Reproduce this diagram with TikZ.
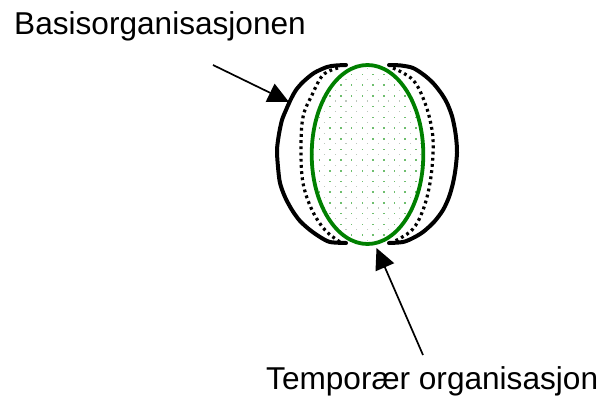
\documentclass[tikz,border=0pt]{standalone}
\usepackage{fontspec}
\setmainfont{Liberation Sans}
\usetikzlibrary{arrows.meta,shapes.geometric}
\definecolor{dgreen}{RGB}{0,128,0}
\definecolor{dotgreen}{RGB}{110,190,110}
\definecolor{dotgrey}{RGB}{190,200,190}
\begin{document}
\begin{tikzpicture}[x=1pt,y=-1pt,
  lbl/.style={anchor=base west,inner sep=0pt,font=\fontsize{31.6}{38}\selectfont},
  outerarc/.style={line width=4pt,black,line cap=round,line join=round},
  dotarc/.style={line width=3.2pt,black,dash pattern=on 2.8pt off 3.4pt},
  pointer/.style={line width=1.7pt,-{Triangle[length=21pt,width=20pt]}},
  orgring/.style={line width=3.8pt,dgreen}]
\useasboundingbox (0,0) rectangle (609,396);
% green dotted fill
\begin{scope}
  \clip (367.5,154.5) ellipse [x radius=55.8, y radius=89.5];
  \foreach \i in {0,...,11}{
    \foreach \j in {0,...,17}{
      \fill[dotgreen] (308+\i*10.7,63+\j*10.7) rectangle ++(1.6,1.6);
      \fill[dotgrey] (313.35+\i*10.7,68.35+\j*10.7) rectangle ++(1.1,1.1);
    }
  }
\end{scope}
\node[orgring,draw,ellipse,minimum width=111.6pt,minimum height=179pt,inner sep=0pt] (temp) at (367.5,154.5) {};
% outer black arcs
\draw[outerarc] plot[smooth,tension=0.5] coordinates {(346,65) (336,65.5) (327,67) (314,73) (303,82) (296,90) (292,97) (290,101) (286,110) (282,120) (279,134) (277,150) (278,167) (280,183) (285,197) (292,210) (300,221) (310,230) (320,237) (330,242) (346,243)};
\draw[outerarc] plot[smooth,tension=0.5] coordinates {(389,65) (401,65.5) (413,68) (424,75) (433,83) (441,93) (447,103) (452,116) (455,130) (456.5,142) (457,153) (455.5,169) (453,183) (449,197) (443,210) (434,222) (423,232) (413,238) (403,242) (389,243)};
% dotted inner arcs
\draw[dotarc] plot[smooth,tension=0.6] coordinates {(338,68) (323,75) (312,95) (303,117) (301,150) (303,183) (312,210) (325,230) (340,242)};
\draw[dotarc] plot[smooth,tension=0.6] coordinates {(393,68) (413,80) (425,103) (432,130) (433,153) (430,183) (423,210) (412,230) (393,242)};
% labels
\node[lbl] (basis) at (14,34.5) {Basisorganisasjonen};
\node[lbl] (tempo) at (266,389) {Temporær organisasjon};
% pointers
\coordinate (b0) at (213,65);
\coordinate (b1) at (289,102);
\coordinate (t0) at (423,355);
\coordinate (t1) at (376.5,248);
\draw[pointer] (b0) -- (b1);
\draw[pointer] (t0) -- (t1);
\end{tikzpicture}
\end{document}
